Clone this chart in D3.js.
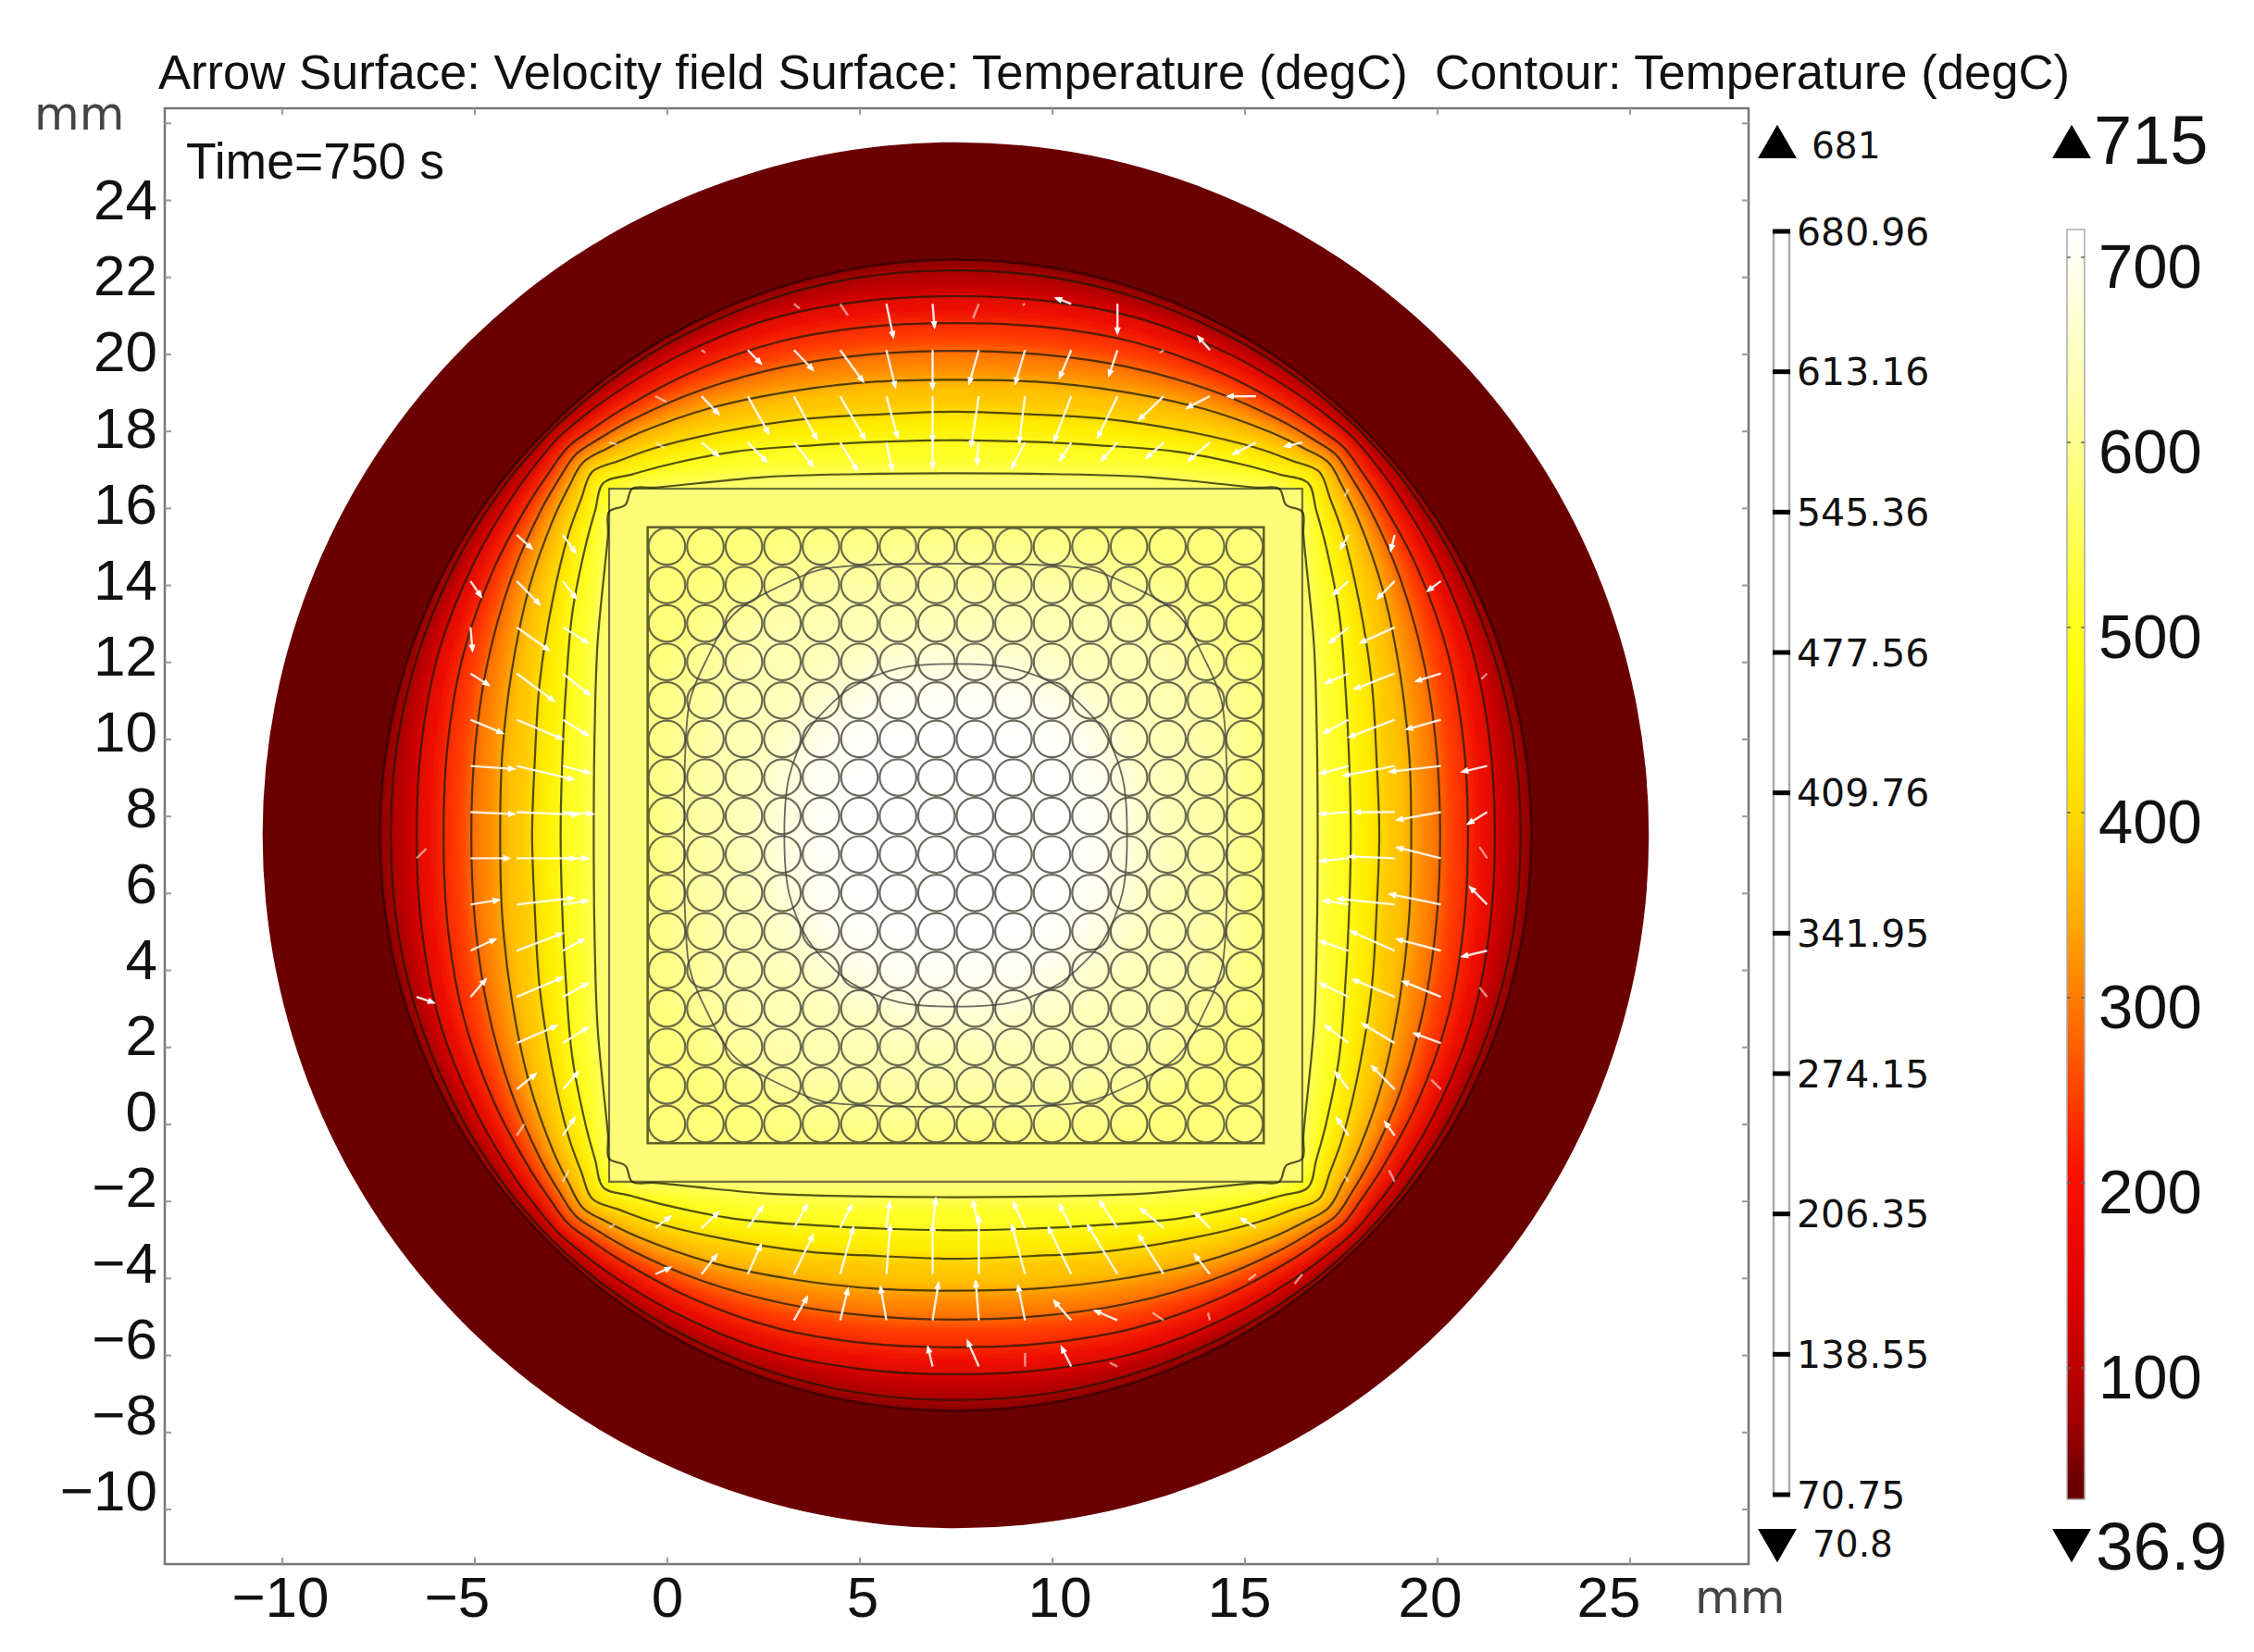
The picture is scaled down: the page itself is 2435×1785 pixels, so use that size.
<!DOCTYPE html>
<html>
<head>
<meta charset="utf-8">
<script src="https://cdn.jsdelivr.net/npm/d3@7"></script>
<style>
  html, body { margin: 0; padding: 0; background: #fff; }
  svg { display: block; }
  text { fill: #111; }
</style>
</head>
<body>
<svg id="chart" width="2435" height="1785"></svg>
<script>
const titleText = "Arrow Surface: Velocity field Surface: Temperature (degC)  Contour: Temperature (degC)";
const timeText = "Time=750 s";

const xTicks = [-10, -5, 0, 5, 10, 15, 20, 25];
const yTicks = [-10, -8, -6, -4, -2, 0, 2, 4, 6, 8, 10, 12, 14, 16, 18, 20, 22, 24, 26];
const yUnlabelled = [26];
// the labels in the picture do not sit exactly on their ticks, px shift per tick
const xLabelShift = [-2, -19, 0, 3, 8, -6, -8, -23];

// geometry in mm
const centre = 7.5;
const outerRadius = 18;
const boundaryRadius = 14.95;
const canHalf = 9;
const bundleHalf = 8;
const rodRadius = 0.475;
const rodPositions = d3.range(0, 16);

// contour levels and radius (mm from centre) read along these rays of one octant
const contourLevels = [70.75, 138.55, 206.35, 274.15, 341.95, 409.76, 477.56, 545.36];
const rayAngles = [0, 10, 20, 30, 38, 42, 45];
const radii70 = [14.67, 14.7, 14.74, 14.79, 14.83, 14.84, 14.85];
const radii138 = [14.0, 14.08, 14.25, 14.38, 14.5, 14.56, 14.6];
const radii206 = [13.3, 13.4, 13.62, 13.85, 14.05, 14.16, 14.25];
const radii274 = [12.58, 12.68, 12.95, 13.33, 13.68, 13.85, 13.97];
const radii342 = [11.83, 11.96, 12.28, 12.8, 13.28, 13.52, 13.69];
const radii410 = [11.0, 11.1, 11.5, 12.1, 12.75, 13.08, 13.35];
const radii477 = [10.26, 10.38, 10.78, 11.5, 12.2, 12.6, 12.94];
// 545 runs into the can wall and cuts its corner, so [u, v] mm
const octant545 = [[9.4, 0], [9.38, 2.5], [9.3, 5], [9.03, 7.8], [9.0, 8.4], [8.58, 8.58]];
const innerLevels = [613.16, 680.96];
const innerOctants = [
  [[7.05, 0], [7.03, 2], [6.9, 3.5], [6.5, 4.5], [5.75, 5.75]],
  [[4.45, 0], [4.33, 1.5], [3.84, 2.71], [3.32, 3.32]]
];

// temperature colormap
const tempStops = [36.9, 70.75, 138.55, 206.35, 274.15, 341.95, 409.76, 477.56, 545.36, 613.16, 680.96, 715];
const tempColors = ["#6b0000", "#a00000", "#e00000", "#ff1000", "#ff6000", "#ffaa00", "#ffe000", "#ffff00", "#ffff50", "#ffffa0", "#ffffe0", "#ffffff"];
const canColor = "#fffc78";

// colour legends
const contourLegendTicks = [680.96, 613.16, 545.36, 477.56, 409.76, 341.95, 274.15, 206.35, 138.55, 70.75];
const contourLegendLabels = ["680.96", "613.16", "545.36", "477.56", "409.76", "341.95", "274.15", "206.35", "138.55", "70.75"];
const surfaceTicks = [700, 600, 500, 400, 300, 200, 100];
const surfaceMax = 715, surfaceMin = 36.9, surfaceBarEnd = 29;

// velocity arrows per quadrant: [offset x, offset y, towards centre x, towards centre y], mm
const arrowsTL = [
  [0.6, 13.8, 0.05, 0.6], [1.8, 13.8, 0.18, 0.86], [3, 13.8, 0.2, 0.3], [4.2, 13.8, 0.15, 0.12],
  [0.6, 12.6, 0, 1.0], [1.8, 12.6, 0.23, 0.96], [3, 12.6, 0.59, 0.81], [4.2, 12.6, 0.49, 0.51], [5.4, 12.6, 0.34, 0.35], [6.6, 12.6, 0.1, 0.07],
  [0.6, 11.4, 0, 1.16], [1.8, 11.4, 0.29, 1.06], [3, 11.4, 0.64, 1.11], [4.2, 11.4, 0.59, 1.11], [5.4, 11.4, 0.54, 0.96], [6.6, 11.4, 0.44, 0.46], [7.8, 11.4, 0.29, 0.15],
  [0.6, 10.2, 0, 0.66], [1.8, 10.2, 0.15, 0.71], [3, 10.2, 0.44, 0.71], [4.2, 10.2, 0.49, 0.61], [5.4, 10.2, 0.49, 0.5], [6.6, 10.2, 0.44, 0.35], [7.8, 10.2, 0.25, 0.15], [9, 10.2, 0.2, 0.05],
  [12.6, 6.6, 0.27, 0.4], [12.6, 5.4, 0.05, 0.6], [12.6, 4.2, 0.47, 0.3], [12.6, 3, 0.83, 0.35], [12.6, 1.8, 1.13, 0.08], [12.6, 0.6, 1.13, 0.05],
  [11.4, 7.8, 0.39, 0.35], [11.4, 6.6, 0.59, 0.6], [11.4, 5.4, 0.83, 0.59], [11.4, 4.2, 0.96, 0.71], [11.4, 3, 1.18, 0.5], [11.4, 1.8, 1.47, 0.35], [11.4, 0.6, 1.57, 0.07],
  [10.2, 7.8, 0.32, 0.45], [10.2, 6.6, 0.34, 0.45], [10.2, 5.4, 0.64, 0.4], [10.2, 4.2, 0.69, 0.55], [10.2, 3, 0.64, 0.4], [10.2, 1.8, 0.69, 0.18], [10.2, 0.6, 0.78, 0.05]
];
const arrowsTR = [
  [0.6, 13.8, 0.15, 0.37], [1.8, 13.8, 0.06, 0.04], [3, 13.8, 0.39, -0.15], [4.2, 13.8, 0, 0.76],
  [0.6, 12.6, 0.25, 0.86], [1.8, 12.6, 0.25, 0.86], [3, 12.6, 0.3, 0.71], [4.2, 12.6, 0.22, 0.66], [5.4, 12.6, 0.1, 0.07], [6.6, 12.6, 0.3, -0.35],
  [0.6, 11.4, 0.2, 1.3], [1.8, 11.4, 0.15, 1.2], [3, 11.4, 0.44, 1.16], [4.2, 11.4, 0.51, 1.06], [5.4, 11.4, 0.64, 0.61], [6.6, 11.4, 0.59, 0.3], [7.8, 11.4, 0.73, 0],
  [0.6, 10.2, 0.05, 0.56], [1.8, 10.2, 0.34, 0.66], [3, 10.2, 0.29, 0.46], [4.2, 10.2, 0.41, 0.46], [5.4, 10.2, 0.44, 0.4], [6.6, 10.2, 0.54, 0.46], [7.8, 10.2, 0.59, 0.3], [9, 10.2, 0.44, 0.1],
  [12.6, 0.6, 1.13, 0.2], [12.6, 1.8, 1.32, 0.15], [12.6, 3, 0.88, 0.25], [12.6, 4.2, 0.64, 0.2], [12.6, 6.6, 0.34, 0.25],
  [11.4, 0.6, 1.03, 0], [11.4, 1.8, 1.32, 0.25], [11.4, 3, 1.18, 0.45], [11.4, 4.2, 1.03, 0.4], [11.4, 5.4, 0.88, 0.4], [11.4, 6.6, 0.44, 0.45], [11.4, 7.8, 0.1, 0.4],
  [10.2, 0.6, 0.73, 0.05], [10.2, 1.8, 0.73, 0.2], [10.2, 3, 0.64, 0.35], [10.2, 4.2, 0.59, 0.25], [10.2, 5.4, 0.49, 0.4], [10.2, 6.6, 0.39, 0.35], [10.2, 7.8, 0.2, 0.35], [10.2, 9, 0.1, 0.2],
  [13.8, 0.6, 0.49, 0.3], [13.8, 1.8, 0.64, 0.15], [13.8, 4.2, 0.15, 0.15]
];
const arrowsBL = [
  [12.6, 0.6, 1, 0], [12.6, 1.8, 0.73, 0.12], [12.6, 3, 0.64, 0.3], [12.6, 4.2, 0.39, 0.45],
  [11.4, 0.6, 1.52, 0], [11.4, 1.8, 1.47, 0.17], [11.4, 3, 1.18, 0.45], [11.4, 4.2, 1.18, 0.5], [11.4, 5.4, 1.03, 0.45], [11.4, 6.6, 0.49, 0.4], [11.4, 7.8, 0.2, 0.3],
  [10.2, 0.6, 0.64, 0], [10.2, 1.8, 0.64, 0.1], [10.2, 3, 0.54, 0.3], [10.2, 4.2, 0.64, 0.35], [10.2, 5.4, 0.64, 0.4], [10.2, 6.6, 0.39, 0.45], [10.2, 7.8, 0.3, 0.45], [10.2, 9, 0.15, 0.3],
  [14, 0.6, 0.25, 0.25], [14, 4.2, 0.44, -0.15],
  [0.6, 13.8, -0.12, 0.5],
  [0.6, 12.6, 0.15, 0.96], [1.8, 12.6, -0.15, 0.86], [3, 12.6, 0.2, 0.81], [4.2, 12.6, 0.34, 0.6],
  [0.6, 11.4, 0, 1.27], [1.8, 11.4, 0.1, 1.27], [3, 11.4, 0.34, 1.21], [4.2, 11.4, 0.49, 1.01], [5.4, 11.4, 0.34, 0.76], [6.6, 11.4, 0.39, 0.5], [7.8, 11.4, 0.39, 0.17],
  [0.6, 10.2, 0.08, 0.76], [1.8, 10.2, 0.08, 0.66], [3, 10.2, 0.3, 0.6], [4.2, 10.2, 0.34, 0.6], [5.4, 10.2, 0.39, 0.56], [6.6, 10.2, 0.44, 0.4], [7.8, 10.2, 0.39, 0.3], [9, 10.2, 0.15, 0.1]
];
const arrowsBR = [
  [12.6, 0.6, 1.13, 0.28], [12.6, 1.8, 1.32, 0.27], [12.6, 3, 1.13, 0.3], [12.6, 4.2, 0.98, 0.4], [12.6, 5.4, 0.69, 0.25], [12.6, 6.6, 0.25, 0.25],
  [11.4, 0.6, 1.18, 0.05], [11.4, 1.8, 1.47, 0.15], [11.4, 3, 1.13, 0.5], [11.4, 4.2, 1.08, 0.45], [11.4, 5.4, 0.83, 0.5], [11.4, 6.6, 0.59, 0.6], [11.4, 7.8, 0.25, 0.35], [11.4, 9, 0.15, 0.3],
  [10.2, 0.6, 0.73, -0.07], [10.2, 1.8, 0.64, 0.1], [10.2, 3, 0.73, 0.25], [10.2, 4.2, 0.73, 0.35], [10.2, 5.4, 0.59, 0.45], [10.2, 6.6, 0.34, 0.45], [10.2, 7.8, 0.3, 0.45], [10.2, 9, 0.1, 0.15],
  [13.8, 0.6, 0.2, 0.3], [13.8, 1.8, 0.44, 0.45], [13.8, 3, 0.64, -0.15], [13.8, 4.2, 0.2, 0.25],
  [0.6, 13.8, 0.29, 0.66], [1.8, 13.8, 0, 0.35], [3, 13.8, 0.25, 0.5], [4.2, 13.8, 0.2, 0.1],
  [0.6, 12.6, 0.08, 1.01], [1.8, 12.6, 0.18, 0.89], [3, 12.6, 0.44, 0.5], [4.2, 12.6, 0.58, 0.25], [5.4, 12.6, 0.29, 0.2], [6.6, 12.6, 0.05, 0.2],
  [0.6, 11.4, 0, 1.5], [1.8, 11.4, 0.34, 1.27], [3, 11.4, 0.59, 1.21], [4.2, 11.4, 0.77, 1.27], [5.4, 11.4, 0.64, 1.01], [6.6, 11.4, 0.39, 0.5], [7.8, 11.4, 0.2, -0.15], [9, 11.4, 0.2, -0.25],
  [0.6, 10.2, 0.15, 0.7], [1.8, 10.2, 0.3, 0.66], [3, 10.2, 0.3, 0.6], [4.2, 10.2, 0.46, 0.7], [5.4, 10.2, 0.59, 0.5], [6.6, 10.2, 0.39, 0.4], [7.8, 10.2, 0.39, 0.25]
];

const svg = d3.select("#chart");
const sansFont = "'Liberation Sans', Arial, sans-serif";
const dejaFont = "'DejaVu Sans', sans-serif";

const x = d3.scaleLinear().domain([-13.04, 28.09]).range([178, 1889]);
const y = d3.scaleLinear().domain([-11.43, 26.38]).range([1690, 117]);
const yLabel = d3.scaleLinear().domain([24, -10]).range([217, 1612]);
const rx = d => x(d) - x(0);   // mm to px

const tempColor = d3.scaleLinear().domain(tempStops).range(tempColors).clamp(true);

const toOctant = radii => radii.map((r, i) => {
  const a = rayAngles[i] * Math.PI / 180;
  return [r * Math.cos(a), r * Math.sin(a)];
});
const contourOctants = [radii70, radii138, radii206, radii274, radii342, radii410, radii477]
  .map(toOctant).concat([octant545]);

// mirrors one octant into a closed ring of data points
function ringPoints(octant) {
  const quarter = octant.concat(octant.slice(0, -1).reverse().map(p => [p[1], p[0]]));
  const ring = [];
  quarter.forEach(p => ring.push([p[0], p[1]]));
  quarter.slice(1).forEach(p => ring.push([-p[1], p[0]]));
  quarter.slice(1).forEach(p => ring.push([-p[0], -p[1]]));
  quarter.slice(1, -1).forEach(p => ring.push([p[1], -p[0]]));
  return ring;
}
const ringPath = d3.line()
  .x(p => x(centre + p[0]))
  .y(p => y(centre + p[1]))
  .curve(d3.curveCatmullRomClosed.alpha(0.5));

const defs = svg.append("defs");
defs.append("clipPath").attr("id", "bandClip").append("circle")
  .attr("cx", x(centre)).attr("cy", y(centre)).attr("r", rx(boundaryRadius));
defs.append("clipPath").attr("id", "bundleClip").append("rect")
  .attr("x", x(centre - bundleHalf)).attr("y", y(centre + bundleHalf))
  .attr("width", rx(2 * bundleHalf)).attr("height", rx(2 * bundleHalf));
defs.append("filter").attr("id", "bandBlur")
  .attr("x", "-5%").attr("y", "-5%").attr("width", "110%").attr("height", "110%")
  .append("feGaussianBlur").attr("stdDeviation", 9);
defs.append("filter").attr("id", "bundleBlur")
  .attr("x", "-20%").attr("y", "-20%").attr("width", "140%").attr("height", "140%")
  .append("feGaussianBlur").attr("stdDeviation", 34);
defs.append("filter").attr("id", "soft")
  .attr("filterUnits", "userSpaceOnUse")
  .attr("x", 0).attr("y", 0).attr("width", 2435).attr("height", 1785)
  .append("feGaussianBlur").attr("stdDeviation", 0.7);
defs.append("marker").attr("id", "head")
  .attr("markerUnits", "userSpaceOnUse")
  .attr("viewBox", "0 0 10 10").attr("refX", 7).attr("refY", 5)
  .attr("markerWidth", 13).attr("markerHeight", 9)
  .attr("orient", "auto")
  .append("path").attr("d", "M0,1 L10,5 L0,9 Z").attr("fill", "#fff");

// outer solid ring
svg.append("circle")
  .attr("cx", x(centre)).attr("cy", y(centre)).attr("r", rx(outerRadius))
  .attr("fill", tempColors[0]);

// heated bands
const bandGroup = svg.append("g").attr("clip-path", "url(#bandClip)")
  .append("g").attr("filter", "url(#bandBlur)");
bandGroup.append("circle")
  .attr("cx", x(centre)).attr("cy", y(centre)).attr("r", rx(boundaryRadius + 1))
  .attr("fill", tempColor((tempStops[0] + contourLevels[0]) / 2));
contourOctants.forEach((oct, i) => {
  const next = i + 1 < contourLevels.length ? contourLevels[i + 1] : innerLevels[0];
  bandGroup.append("path")
    .attr("d", ringPath(ringPoints(oct)))
    .attr("fill", tempColor((contourLevels[i] + next) / 2));
});

// can wall
svg.append("rect")
  .attr("x", x(centre - canHalf)).attr("y", y(centre + canHalf))
  .attr("width", rx(2 * canHalf)).attr("height", rx(2 * canHalf))
  .attr("fill", canColor);

// bundle with its own slow gradient
const bundleGroup = svg.append("g").attr("clip-path", "url(#bundleClip)")
  .append("g").attr("filter", "url(#bundleBlur)");
bundleGroup.append("rect")
  .attr("x", x(centre - canHalf - 4)).attr("y", y(centre + canHalf + 4))
  .attr("width", rx(2 * canHalf + 8)).attr("height", rx(2 * canHalf + 8))
  .attr("fill", "#ffff78");
bundleGroup.append("path").attr("d", ringPath(ringPoints(innerOctants[0]))).attr("fill", "#ffffb4");
bundleGroup.append("path").attr("d", ringPath(ringPoints(innerOctants[1]))).attr("fill", "#ffffff");

const lineLayer = svg.append("g").attr("filter", "url(#soft)");

// rods
const rods = d3.cross(rodPositions, rodPositions);
lineLayer.append("g").selectAll("circle").data(rods).enter().append("circle")
  .attr("cx", d => x(d[0])).attr("cy", d => y(d[1])).attr("r", rx(rodRadius))
  .attr("fill", "none").attr("stroke", "#46463a").attr("stroke-width", 2.2).attr("stroke-opacity", 0.8);
lineLayer.append("rect")
  .attr("x", x(centre - bundleHalf)).attr("y", y(centre + bundleHalf))
  .attr("width", rx(2 * bundleHalf)).attr("height", rx(2 * bundleHalf))
  .attr("fill", "none").attr("stroke", "#5d5f2c").attr("stroke-width", 2.5);
lineLayer.append("rect")
  .attr("x", x(centre - canHalf)).attr("y", y(centre + canHalf))
  .attr("width", rx(2 * canHalf)).attr("height", rx(2 * canHalf))
  .attr("fill", "none").attr("stroke", "#6d7035").attr("stroke-width", 2.2);

// contour lines
lineLayer.append("g").selectAll("path").data(contourOctants).enter().append("path")
  .attr("d", d => ringPath(ringPoints(d)))
  .attr("fill", "none").attr("stroke", "#1a1a00").attr("stroke-width", 2.2).attr("stroke-opacity", 0.75);
lineLayer.append("g").selectAll("path").data(innerOctants).enter().append("path")
  .attr("d", d => ringPath(ringPoints(d)))
  .attr("fill", "none").attr("stroke", "#444").attr("stroke-width", 1.8).attr("stroke-opacity", 0.8);
lineLayer.append("circle")
  .attr("cx", x(centre)).attr("cy", y(centre)).attr("r", rx(boundaryRadius))
  .attr("fill", "none").attr("stroke", "#2a0000").attr("stroke-width", 2.5).attr("stroke-opacity", 0.7);

// velocity arrows
const quadrants = [
  { data: arrowsTL, sx: -1, sy: 1 },
  { data: arrowsTR, sx: 1, sy: 1 },
  { data: arrowsBL, sx: -1, sy: -1 },
  { data: arrowsBR, sx: 1, sy: -1 }
];
const arrowGroup = lineLayer.append("g");
quadrants.forEach(q => {
  arrowGroup.append("g").selectAll("line").data(q.data).enter().append("line")
    .attr("x1", d => x(centre + q.sx * d[0]))
    .attr("y1", d => y(centre + q.sy * d[1]))
    .attr("x2", d => x(centre + q.sx * (d[0] - d[2])))
    .attr("y2", d => y(centre + q.sy * (d[1] - d[3])))
    .attr("stroke", "#fff")
    .attr("stroke-width", 2.4)
    .attr("stroke-opacity", d => Math.hypot(d[2], d[3]) < 0.4 ? 0.55 : 0.88)
    .attr("marker-end", d => Math.hypot(d[2], d[3]) < 0.4 ? null : "url(#head)");
});

// frame and axes
svg.append("rect")
  .attr("x", x.range()[0]).attr("y", y.range()[1])
  .attr("width", x.range()[1] - x.range()[0]).attr("height", y.range()[0] - y.range()[1])
  .attr("fill", "none").attr("stroke", "#777").attr("stroke-width", 2.5);

function styleAxis(g) {
  g.select(".domain").remove();
  g.selectAll(".tick line").attr("stroke", "#999").attr("stroke-width", 2);
  g.selectAll(".tick text").attr("font-family", sansFont).attr("font-size", 62).attr("fill", "#111");
}
svg.append("g").attr("transform", `translate(0,${y.range()[0]})`)
  .call(d3.axisBottom(x).tickValues(xTicks).tickSizeInner(-7).tickPadding(14))
  .call(styleAxis)
  .call(g => g.selectAll(".tick text").attr("y", 13).attr("x", (d, i) => xLabelShift[i]));
svg.append("g").attr("transform", `translate(0,${y.range()[1]})`)
  .call(d3.axisTop(x).tickValues(xTicks).tickSizeInner(-7).tickFormat(""))
  .call(styleAxis);
svg.append("g").attr("transform", `translate(${x.range()[0]},0)`)
  .call(d3.axisLeft(y).tickValues(yTicks).tickSizeInner(-7).tickPadding(8)
    .tickFormat(d => yUnlabelled.includes(d) ? "" : d3.format("d")(d)))
  .call(styleAxis)
  .call(g => g.selectAll(".tick text").attr("x", -8).attr("y", d => yLabel(d) - y(d)));
svg.append("g").attr("transform", `translate(${x.range()[1]},0)`)
  .call(d3.axisRight(y).tickValues(yTicks).tickSizeInner(-7).tickFormat(""))
  .call(styleAxis);

// texts
svg.append("text").attr("x", 171).attr("y", 96)
  .attr("font-family", sansFont).attr("font-size", 51)
  .attr("textLength", 2065).attr("lengthAdjust", "spacingAndGlyphs")
  .style("white-space", "pre")
  .text(titleText);
svg.append("text").attr("x", 201).attr("y", 193)
  .attr("font-family", sansFont).attr("font-size", 56)
  .attr("textLength", 279).attr("lengthAdjust", "spacingAndGlyphs").attr("fill", "#333")
  .text(timeText);
svg.append("text").attr("x", 37).attr("y", 140)
  .attr("font-family", dejaFont).attr("font-size", 50).style("fill", "#444").text("mm");
svg.append("text").attr("x", 1831).attr("y", 1743)
  .attr("font-family", dejaFont).attr("font-size", 50).style("fill", "#444").text("mm");

// contour legend
const contourY = d3.scaleLinear().domain([680.96, 70.75]).range([250, 1615]);
svg.append("rect")
  .attr("x", 1916).attr("y", contourY(680.96)).attr("width", 17).attr("height", contourY(70.75) - contourY(680.96))
  .attr("fill", "#fff").attr("stroke", "#aaa").attr("stroke-width", 2.5);
const contourLegend = svg.append("g").selectAll("g")
  .data(contourLegendTicks).enter().append("g")
  .attr("transform", d => `translate(0,${contourY(d)})`);
contourLegend.append("line")
  .attr("x1", 1915).attr("x2", 1934)
  .attr("stroke", "#000").attr("stroke-width", 5);
contourLegend.append("text")
  .attr("x", 1941).attr("dy", "0.36em")
  .attr("font-family", dejaFont).attr("font-size", 41)
  .text((d, i) => contourLegendLabels[i]);

// surface legend
const surfaceY = d3.scaleLinear().domain([700, 100]).range([278, 1478]);
const barGradient = defs.append("linearGradient").attr("id", "barGradient")
  .attr("x1", 0).attr("x2", 0).attr("y1", 0).attr("y2", 1);
tempStops.slice().reverse().forEach(t => {
  barGradient.append("stop")
    .attr("offset", (surfaceY(t) - surfaceY(surfaceMax)) / (surfaceY(surfaceBarEnd) - surfaceY(surfaceMax)))
    .attr("stop-color", tempColor(t));
});
svg.append("rect")
  .attr("x", 2233).attr("y", surfaceY(surfaceMax)).attr("width", 19)
  .attr("height", surfaceY(surfaceBarEnd) - surfaceY(surfaceMax))
  .attr("fill", "url(#barGradient)").attr("stroke", "#aaa").attr("stroke-width", 1.5);
const surfaceLegend = svg.append("g").selectAll("g")
  .data(surfaceTicks).enter().append("g")
  .attr("transform", d => `translate(0,${surfaceY(d)})`);
surfaceLegend.append("line").attr("x1", 2233).attr("x2", 2237).attr("stroke", "#666").attr("stroke-width", 1.5);
surfaceLegend.append("line").attr("x1", 2248).attr("x2", 2252).attr("stroke", "#666").attr("stroke-width", 1.5);
surfaceLegend.append("text")
  .attr("x", 2267).attr("y", 9).attr("dy", "0.36em")
  .attr("font-family", sansFont).attr("font-size", 67)
  .text(d => d);

// max / min markers
const markerTriangle = d3.symbol().type(d3.symbolTriangle).size(760);
function extremeMarker(cx, cy, flip) {
  svg.append("path").attr("d", markerTriangle())
    .attr("transform", `translate(${cx},${cy}) rotate(${flip ? 180 : 0})`)
    .attr("fill", "#000");
}
extremeMarker(1920, 159, false);
extremeMarker(1920, 1664, true);
extremeMarker(2238, 159, false);
extremeMarker(2238, 1664, true);
svg.append("text").attr("x", 1957).attr("y", 157).attr("dy", "0.36em")
  .attr("font-family", dejaFont).attr("font-size", 39).text("681");
svg.append("text").attr("x", 1958).attr("y", 1668).attr("dy", "0.36em")
  .attr("font-family", dejaFont).attr("font-size", 39).text("70.8");
svg.append("text").attr("x", 2262).attr("y", 150).attr("dy", "0.36em")
  .attr("font-family", sansFont).attr("font-size", 74).text(surfaceMax);
svg.append("text").attr("x", 2264).attr("y", 1670).attr("dy", "0.36em")
  .attr("font-family", sansFont).attr("font-size", 73).text(surfaceMin);
</script>
</body>
</html>
